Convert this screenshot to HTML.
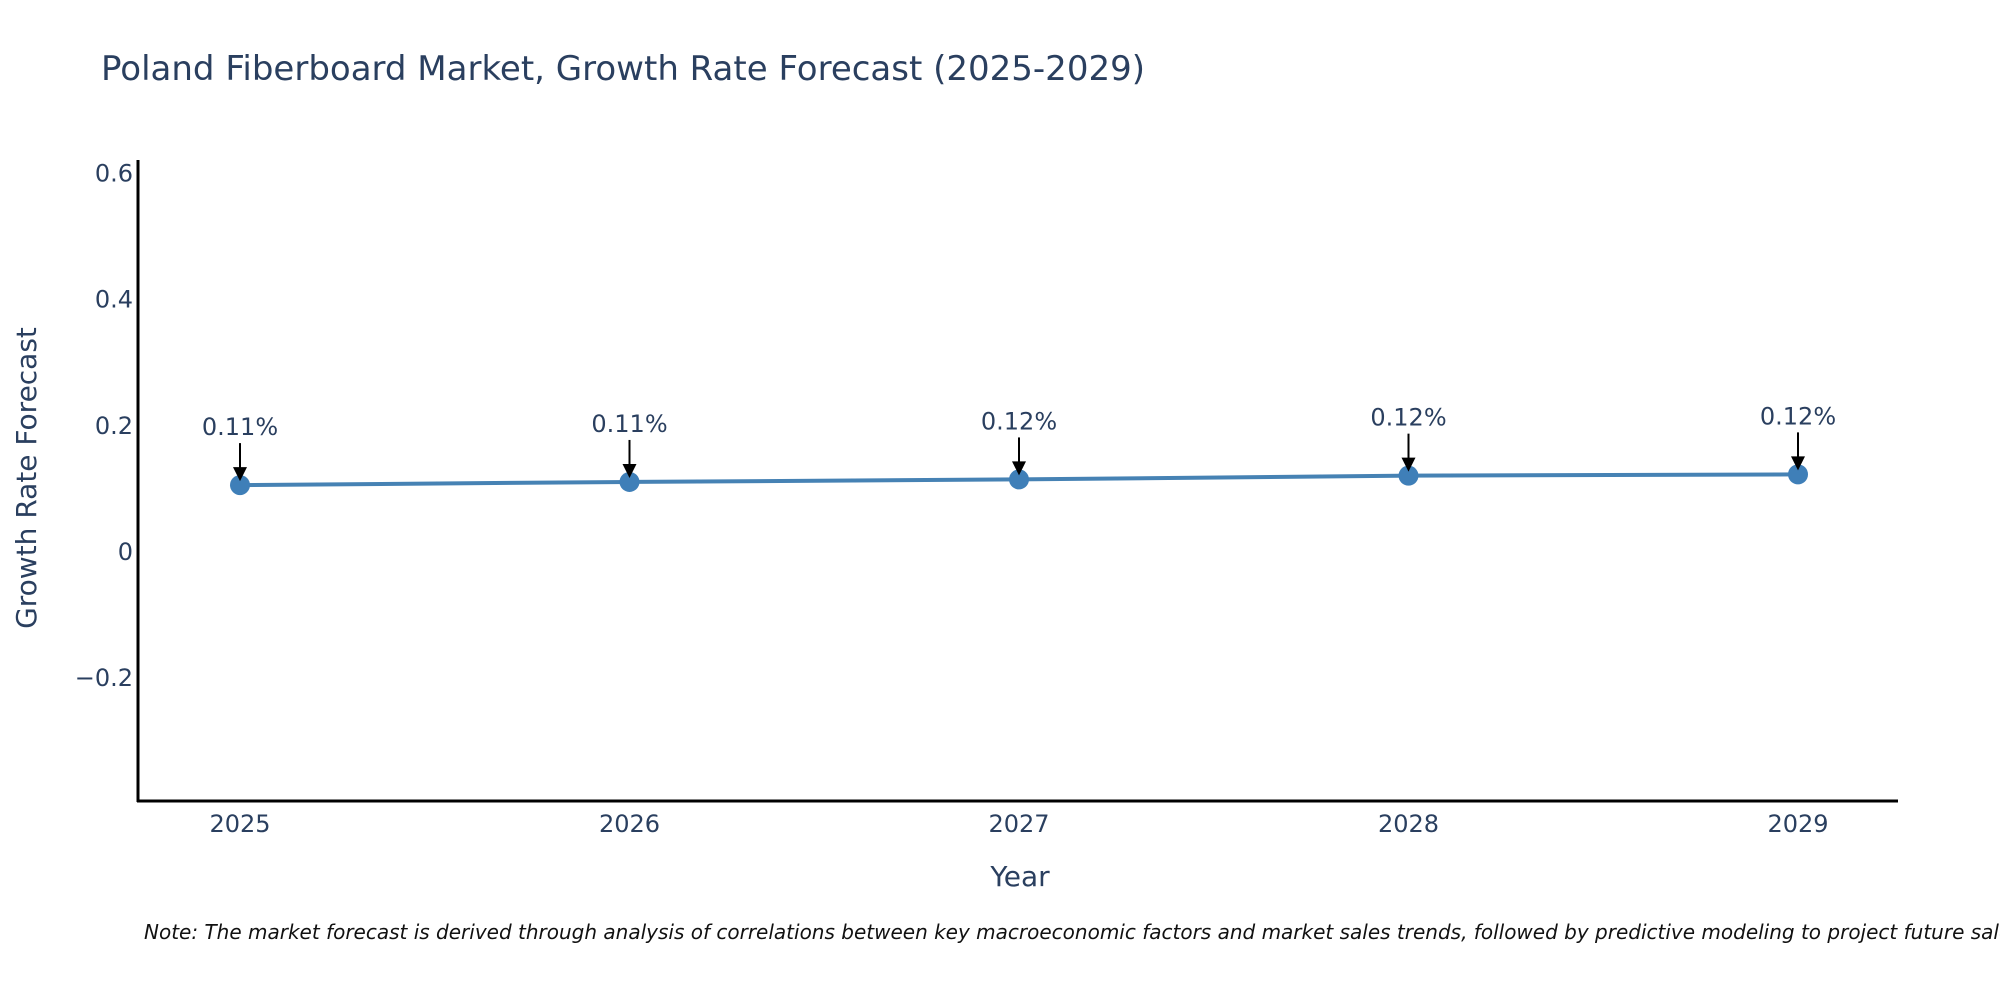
<!DOCTYPE html>
<html><head><meta charset="utf-8"><style>
body{margin:0;background:#fff;}
svg{display:block;font-family:"DejaVu Sans","Liberation Sans",sans-serif;}
</style></head><body>
<svg id="chart" width="2000" height="1000" viewBox="0 0 2000 1000">
<text x="101" y="80" font-size="34" fill="#2a3f5f">Poland Fiberboard Market, Growth Rate Forecast (2025-2029)</text>
<g id="yticks"></g>
<g id="xticks"></g>
<line x1="138" y1="160" x2="138" y2="802" stroke="#000" stroke-width="3"/>
<line x1="137" y1="801" x2="1898" y2="801" stroke="#000" stroke-width="3"/>
<g id="series"></g>
<text x="26" y="478" font-size="28" fill="#2a3f5f" text-anchor="middle" transform="rotate(-90 26 478)" dy="10">Growth Rate Forecast</text>
<text x="1020" y="886" font-size="28" fill="#2a3f5f" text-anchor="middle">Year</text>
<text x="144" y="939" font-size="20" font-style="italic" fill="#111">Note: The market forecast is derived through analysis of correlations between key macroeconomic factors and market sales trends, followed by predictive modeling to project future sales.</text>
</svg>
<script>
const years = ["2025","2026","2027","2028","2029"];
const values = [0.106, 0.111, 0.115, 0.121, 0.123];
const labels = ["0.11%","0.11%","0.12%","0.12%","0.12%"];
const yTicks = [0.6, 0.4, 0.2, 0, -0.2];
const yTickLabels = ["0.6","0.4","0.2","0","\u22120.2"];

const NS="http://www.w3.org/2000/svg";
const yMin=-0.395, yMax=0.62, pTop=161, pBot=801;
function yScale(v){return pBot-(v-yMin)/(yMax-yMin)*(pBot-pTop);}
function xScale(i){return 240+i*389.5;}
function mk(tag,attrs,parent){const e=document.createElementNS(NS,tag);for(const k in attrs)e.setAttribute(k,attrs[k]);parent.appendChild(e);return e;}

const yg=document.getElementById('yticks');
yTicks.forEach((t,i)=>{
  const el=mk('text',{x:133,y:yScale(t)+8,'font-size':24,fill:'#2a3f5f','text-anchor':'end'},yg);
  el.textContent=yTickLabels[i];
  
  
});
const xg=document.getElementById('xticks');
years.forEach((y,i)=>{
  const el=mk('text',{x:xScale(i),y:832,'font-size':24,fill:'#2a3f5f','text-anchor':'middle'},xg);
  el.textContent=y;
  
  
});
const sg=document.getElementById('series');
const pts=values.map((v,i)=>xScale(i)+','+yScale(v)).join(' ');
const line=mk('polyline',{points:pts,fill:'none',stroke:'#4682b4','stroke-width':4},sg);


values.forEach((v,i)=>{
  const x=xScale(i), y=yScale(v);
  const c=mk('circle',{cx:x,cy:y,r:10,fill:'#3f7fb8'},sg);
  
  
  const a=mk('line',{x1:x,y1:y-42,x2:x,y2:y-14,stroke:'#000','stroke-width':2},sg);
  
  
  const h=mk('polygon',{points:`${x-7},${y-18} ${x+7},${y-18} ${x},${y-4}`,fill:'#000'},sg);
  
  
  const t=mk('text',{x:x,y:y-50,'font-size':24,fill:'#2a3f5f','text-anchor':'middle'},sg);
  t.textContent=labels[i];
  
  
});
</script>
</body></html>
